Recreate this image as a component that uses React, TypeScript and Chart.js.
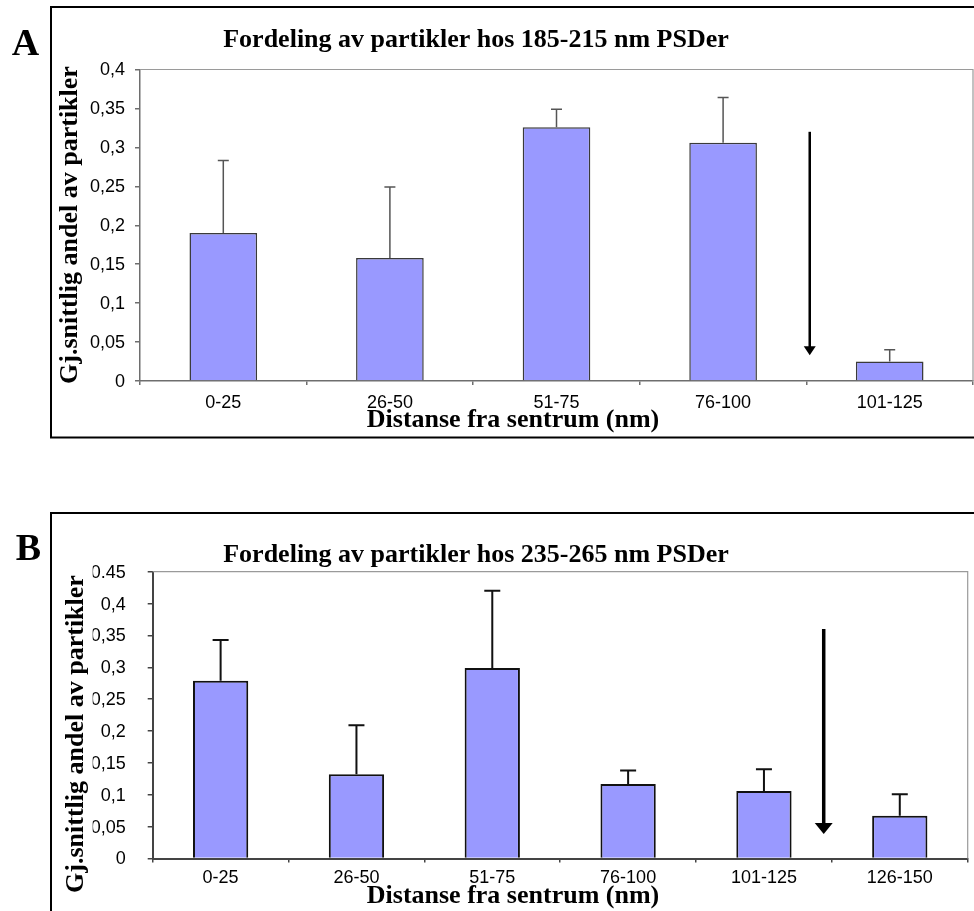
import React, { useEffect, useRef } from 'react';
import { Chart, registerables } from 'chart.js';

Chart.register(...registerables);

// ---------- data ----------
const categoriesA = ['0-25', '26-50', '51-75', '76-100', '101-125'];
const meansA = [0.19, 0.158, 0.326, 0.306, 0.025];
const errorsA = [0.093, 0.091, 0.023, 0.058, 0.015];
const yTicksA = ['0', '0,05', '0,1', '0,15', '0,2', '0,25', '0,3', '0,35', '0,4'];

const categoriesB = ['0-25', '26-50', '51-75', '76-100', '101-125', '126-150'];
const meansB = [0.279, 0.132, 0.299, 0.117, 0.106, 0.067];
const errorsB = [0.064, 0.077, 0.121, 0.021, 0.034, 0.034];
const yTicksB = ['0', '0,05', '0,1', '0,15', '0,2', '0,25', '0,3', '0,35', '0,4', '0.45'];

const titleA = 'Fordeling av partikler hos 185-215 nm PSDer';
const titleB = 'Fordeling av partikler hos 235-265 nm PSDer';
const yTitle = 'Gj.snittlig andel av partikler';
const xTitle = 'Distanse fra sentrum (nm)';

// ---------- layout ----------
const W = 974;
const SERIF = '"Liberation Serif", "Times New Roman", serif';
const SANS = '"Liberation Sans", Arial, sans-serif';
const Y_AXIS_W = 60;
const X_AXIS_H = 40;

interface PanelCfg {
  letter: string;
  title: string;
  categories: string[];
  means: number[];
  errors: number[];
  yTicks: string[];
  yMax: number;
  canvasTop: number;
  canvasHeight: number;
  area: { left: number; right: number; top: number; bottom: number };
  box: { x0: number; y0: number; x1: number; y1: number };
  letterPos: { x: number; y: number };
  titlePos: { x: number; y: number };
  yTitlePos: { x: number; y: number };
  xTitlePos: { x: number; y: number };
  arrow: { at: number; from: number; to: number; width: number; headW: number; headH: number };
  axisColor: string;
  axisWidth: number;
  frameColor: string;
  barBorder: string;
  barBorderWidth: number;
  barPct: number;
  errColor: string;
  errWidth: number;
  capW: number;
  xTickPad: number;
  yTickPad: number;
}

const panelA: PanelCfg = {
  letter: 'A',
  title: titleA,
  categories: categoriesA,
  means: meansA,
  errors: errorsA,
  yTicks: yTicksA,
  yMax: 0.4,
  canvasTop: 0,
  canvasHeight: 455,
  area: { left: 140, right: 973, top: 69.5, bottom: 381 },
  box: { x0: 51, y0: 7, x1: 978, y1: 437.5 },
  letterPos: { x: 25.5, y: 55 },
  titlePos: { x: 476, y: 46.5 },
  yTitlePos: { x: 77, y: 225 },
  xTitlePos: { x: 513, y: 427 },
  arrow: { at: 3.52, from: 0.32, to: 0.033, width: 2.5, headW: 12, headH: 9 },
  axisColor: '#6e6e6e',
  axisWidth: 1.5,
  frameColor: '#9a9a9a',
  barBorder: '#3a3a3a',
  barBorderWidth: 1.5,
  barPct: 0.406,
  errColor: '#555555',
  errWidth: 1.5,
  capW: 11,
  xTickPad: 7,
  yTickPad: 10,
};

const panelB: PanelCfg = {
  letter: 'B',
  title: titleB,
  categories: categoriesB,
  means: meansB,
  errors: errorsB,
  yTicks: yTicksB,
  yMax: 0.45,
  canvasTop: 455,
  canvasHeight: 456,
  area: { left: 152.7, right: 967.7, top: 571.7, bottom: 858.5 },
  box: { x0: 51, y0: 513, x1: 978, y1: 916 },
  letterPos: { x: 28.5, y: 560 },
  titlePos: { x: 476, y: 561.5 },
  yTitlePos: { x: 83, y: 734 },
  xTitlePos: { x: 513, y: 903 },
  arrow: { at: 4.44, from: 0.36, to: 0.0385, width: 3.5, headW: 18, headH: 11 },
  axisColor: '#444444',
  axisWidth: 2,
  frameColor: '#9a9a9a',
  barBorder: '#111111',
  barBorderWidth: 2,
  barPct: 0.407,
  errColor: '#111111',
  errWidth: 2,
  capW: 16,
  xTickPad: 5,
  yTickPad: 22,
};

function overlayPlugin(cfg: PanelCfg) {
  return {
    id: 'overlay' + cfg.letter,
    afterDatasetsDraw(chart: any) {
      const ctx: CanvasRenderingContext2D = chart.ctx;
      const xs = chart.scales.x;
      const ys = chart.scales.y;
      const off = cfg.canvasTop;
      const ca = chart.chartArea;
      ctx.save();

      // plot frame (top and right)
      ctx.strokeStyle = cfg.frameColor;
      ctx.lineWidth = 1.2;
      ctx.beginPath();
      ctx.moveTo(ca.left, ca.top);
      ctx.lineTo(ca.right, ca.top);
      ctx.lineTo(ca.right, ca.bottom);
      ctx.stroke();

      // error bars (upper only)
      ctx.strokeStyle = cfg.errColor;
      ctx.lineWidth = cfg.errWidth;
      cfg.means.forEach((m, i) => {
        const px = xs.getPixelForValue(i);
        const y0 = ys.getPixelForValue(m);
        const y1 = ys.getPixelForValue(m + cfg.errors[i]);
        ctx.beginPath();
        ctx.moveTo(px, y0);
        ctx.lineTo(px, y1);
        ctx.moveTo(px - cfg.capW / 2, y1);
        ctx.lineTo(px + cfg.capW / 2, y1);
        ctx.stroke();
      });

      // arrow
      const a = cfg.arrow;
      const ax = xs.getPixelForValue(a.at);
      const ay0 = ys.getPixelForValue(a.from);
      const ay1 = ys.getPixelForValue(a.to);
      ctx.strokeStyle = '#000';
      ctx.fillStyle = '#000';
      ctx.lineWidth = a.width;
      ctx.beginPath();
      ctx.moveTo(ax, ay0);
      ctx.lineTo(ax, ay1 - a.headH + 1);
      ctx.stroke();
      ctx.beginPath();
      ctx.moveTo(ax - a.headW / 2, ay1 - a.headH);
      ctx.lineTo(ax + a.headW / 2, ay1 - a.headH);
      ctx.lineTo(ax, ay1);
      ctx.closePath();
      ctx.fill();

      // outer box
      ctx.strokeStyle = '#000';
      ctx.lineWidth = 2;
      const b = cfg.box;
      ctx.strokeRect(b.x0, b.y0 - off, b.x1 - b.x0, b.y1 - b.y0);

      // texts
      ctx.fillStyle = '#000';
      ctx.textBaseline = 'alphabetic';
      ctx.textAlign = 'center';
      ctx.font = `bold 38px ${SERIF}`;
      ctx.fillText(cfg.letter, cfg.letterPos.x, cfg.letterPos.y - off);

      ctx.font = `bold 26px ${SERIF}`;
      ctx.fillText(cfg.title, cfg.titlePos.x, cfg.titlePos.y - off);
      ctx.fillText(xTitle, cfg.xTitlePos.x, cfg.xTitlePos.y - off);

      ctx.save();
      ctx.translate(cfg.yTitlePos.x, cfg.yTitlePos.y - off);
      ctx.rotate(-Math.PI / 2);
      ctx.fillText(yTitle, 0, 0);
      ctx.restore();

      ctx.restore();
    },
  };
}

function Panel({ cfg }: { cfg: PanelCfg }) {
  const ref = useRef<HTMLCanvasElement>(null);
  useEffect(() => {
    const canvas = ref.current;
    if (!canvas) return;
    const localTop = cfg.area.top - cfg.canvasTop;
    const localBottom = cfg.area.bottom - cfg.canvasTop;
    const chart = new Chart(canvas, {
      type: 'bar',
      data: {
        labels: cfg.categories,
        datasets: [
          {
            data: cfg.means,
            backgroundColor: '#9999FF',
            borderColor: cfg.barBorder,
            borderWidth: cfg.barBorderWidth,
            barPercentage: cfg.barPct,
            categoryPercentage: 1,
          },
        ],
      },
      options: {
        responsive: false,
        animation: false,
        devicePixelRatio: 1,
        events: [],
        layout: {
          padding: {
            left: cfg.area.left - Y_AXIS_W,
            right: W - cfg.area.right,
            top: localTop,
            bottom: cfg.canvasHeight - localBottom - X_AXIS_H,
          },
        },
        plugins: {
          legend: { display: false },
          title: { display: false },
          tooltip: { enabled: false },
        },
        scales: {
          x: {
            offset: true,
            grid: {
              display: true,
              drawOnChartArea: false,
              drawTicks: true,
              tickLength: 4,
              color: cfg.axisColor,
              lineWidth: 1.5,
              offset: true,
            },
            border: { display: true, color: cfg.axisColor, width: cfg.axisWidth },
            ticks: {
              color: '#000',
              font: { family: SANS, size: 18 },
              padding: cfg.xTickPad,
              maxRotation: 0,
              autoSkip: false,
            },
            afterFit: (s: any) => {
              s.height = X_AXIS_H;
            },
          },
          y: {
            min: 0,
            max: cfg.yMax,
            grid: {
              display: true,
              drawOnChartArea: false,
              drawTicks: true,
              tickLength: 5,
              color: cfg.axisColor,
              lineWidth: 1.5,
            },
            border: { display: true, color: cfg.axisColor, width: cfg.axisWidth },
            ticks: {
              stepSize: 0.05,
              color: '#000',
              font: { family: SANS, size: 18 },
              padding: cfg.yTickPad,
              labelOffset: 1,
              callback: (v: any) => cfg.yTicks[Math.round(Number(v) / 0.05)],
            },
            afterFit: (s: any) => {
              s.width = Y_AXIS_W;
            },
          },
        },
      },
      plugins: [overlayPlugin(cfg)],
    } as any);
    return () => chart.destroy();
  }, [cfg]);
  return (
    <canvas
      ref={ref}
      width={W}
      height={cfg.canvasHeight}
      style={{ position: 'absolute', left: 0, top: cfg.canvasTop, display: 'block' }}
    />
  );
}

export default function App() {
  return (
    <div
      style={{
        position: 'absolute',
        left: 0,
        top: 0,
        width: W,
        height: 911,
        overflow: 'hidden',
        background: '#fff',
      }}
    >
      <Panel cfg={panelA} />
      <Panel cfg={panelB} />
    </div>
  );
}
